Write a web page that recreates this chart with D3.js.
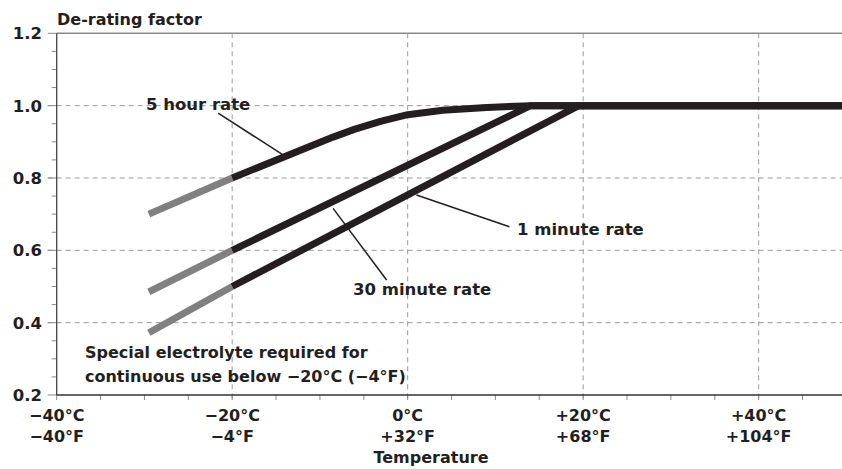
<!DOCTYPE html>
<html><head><meta charset="utf-8">
<script src="https://cdn.jsdelivr.net/npm/d3@7"></script>
<style>body{margin:0;background:#fff}</style>
</head><body><svg id="c" width="842" height="469"></svg>
<script>
// ---- data ----
const tempTicks = [-40, -20, 0, 20, 40];
const celsiusLabels = ["−40°C", "−20°C", "0°C", "+20°C", "+40°C"];
const fahrenheitLabels = ["−40°F", "−4°F", "+32°F", "+68°F", "+104°F"];
const yTicks = [0.2, 0.4, 0.6, 0.8, 1.0, 1.2];
const yTickLabels = ["0.2", "0.4", "0.6", "0.8", "1.0", "1.2"];
const splitTemp = -20; // below this: special electrolyte (grey)

const fiveHourTemps  = [-29.5, -20, -8.5, -6, -3, 0, 4, 9, 14, 49.5];
const fiveHourValues = [0.70, 0.80, 0.913, 0.935, 0.957, 0.975, 0.987, 0.995, 1.0, 1.0];
const thirtyMinTemps  = [-29.5, -20, 14, 49.5];
const thirtyMinValues = [0.485, 0.60, 1.0, 1.0];
const oneMinTemps  = [-29.5, -20, 19.5, 49.5];
const oneMinValues = [0.372, 0.50, 1.0, 1.0];

const seriesNames = ["5 hour rate", "30 minute rate", "1 minute rate"];
// label leader lines: [fromTemp, fromValue, toTemp, toValue]
const leader5h  = [-21.6, 0.979, -14.2, 0.864];
const leader30m = [-8.5, 0.716, -2.4, 0.518];
const leader1m  = [1.0, 0.753, 11.6, 0.665];
const noteLines = ["Special electrolyte required for", "continuous use below −20°C (−4°F)"];

// ---- drawing ----
const svg = d3.select("#c");
const W = 842, H = 469;
const m = {left: 56.7, top: 33.3, right: 0, bottom: 74};
const x = d3.scaleLinear().domain([-40, 49.5]).range([m.left, W - m.right]);
const y = d3.scaleLinear().domain([0.2, 1.2]).range([H - m.bottom, m.top]);
const ink = "#231f20", grey = "#808080";
const font = "'DejaVu Sans', sans-serif";

// grid
const grid = svg.append("g").attr("stroke", "#9a9a9a").attr("stroke-width", 1).attr("stroke-dasharray", "5,4");
grid.selectAll("line.v").data(tempTicks.slice(1)).join("line")
  .attr("x1", d => x(d)).attr("x2", d => x(d)).attr("y1", y(1.2)).attr("y2", y(0.2) + 5);
grid.selectAll("line.h").data(yTicks.slice(1, -1)).join("line")
  .attr("x1", m.left - 9).attr("x2", W).attr("y1", d => y(d)).attr("y2", d => y(d));

// y axis minor ticks
const yMinor = d3.range(0, 21).map(i => 0.2 + i * 0.05);
svg.append("g").attr("stroke", "#8a8a8a").selectAll("line").data(yMinor).join("line")
  .attr("x1", (d, i) => i % 4 === 0 ? m.left - 9 : m.left - 5)
  .attr("x2", m.left).attr("y1", d => y(d)).attr("y2", d => y(d));
// x ticks
svg.append("g").attr("stroke", "#8a8a8a").selectAll("line").data(d3.range(-40, 50, 5)).join("line")
  .attr("x1", d => x(d)).attr("x2", d => x(d)).attr("y1", y(0.2)).attr("y2", y(0.2) + 5);

// frame
svg.append("line").attr("x1", m.left).attr("x2", W).attr("y1", y(1.2)).attr("y2", y(1.2))
  .attr("stroke", "#8a8a8a").attr("stroke-width", 1.5);
svg.append("line").attr("x1", m.left).attr("x2", m.left).attr("y1", y(1.2)).attr("y2", y(0.2))
  .attr("stroke", "#444").attr("stroke-width", 1.3);
svg.append("line").attr("x1", m.left).attr("x2", W).attr("y1", y(0.2)).attr("y2", y(0.2))
  .attr("stroke", "#333").attr("stroke-width", 1.3);

// curves
const line = d3.line().x(d => x(d[0])).y(d => y(d[1]));
function drawSeries(temps, vals) {
  const pts = temps.map((t, i) => [t, vals[i]]);
  svg.append("path").attr("d", line(pts.filter(p => p[0] <= splitTemp)))
    .attr("fill", "none").attr("stroke", grey).attr("stroke-width", 7);
  svg.append("path").attr("d", line(pts.filter(p => p[0] >= splitTemp)))
    .attr("fill", "none").attr("stroke", ink).attr("stroke-width", 7).attr("stroke-linejoin", "round");
}
drawSeries(oneMinTemps, oneMinValues);
drawSeries(thirtyMinTemps, thirtyMinValues);
drawSeries(fiveHourTemps, fiveHourValues);

// leaders
[leader5h, leader30m, leader1m].forEach(l => {
  svg.append("line").attr("x1", x(l[0])).attr("y1", y(l[1])).attr("x2", x(l[2])).attr("y2", y(l[3]))
    .attr("stroke", ink).attr("stroke-width", 1.5);
});

const txt = (s, px, py, anchor, size) => svg.append("text").text(s).attr("x", px).attr("y", py)
  .attr("text-anchor", anchor || "start").attr("font-family", font).attr("font-size", size || 16.5)
  .attr("font-weight", "bold").attr("fill", ink);

txt(seriesNames[0], 146, 110);
txt(seriesNames[1], 353, 295);
txt(seriesNames[2], 517, 235);
txt(noteLines[0], 85, 358, "start", 16);
txt(noteLines[1], 85, 381.5, "start", 16);

// axis labels
txt("De-rating factor", 57, 25, "start", 16);
yTicks.forEach((v, i) => txt(yTickLabels[i], 42, y(v) + 6, "end"));
tempTicks.forEach((t, i) => {
  txt(celsiusLabels[i], x(t), 421, "middle", 16);
  txt(fahrenheitLabels[i], x(t), 441.5, "middle", 16);
});
txt("Temperature", 431, 463, "middle", 16);
</script></body></html>
